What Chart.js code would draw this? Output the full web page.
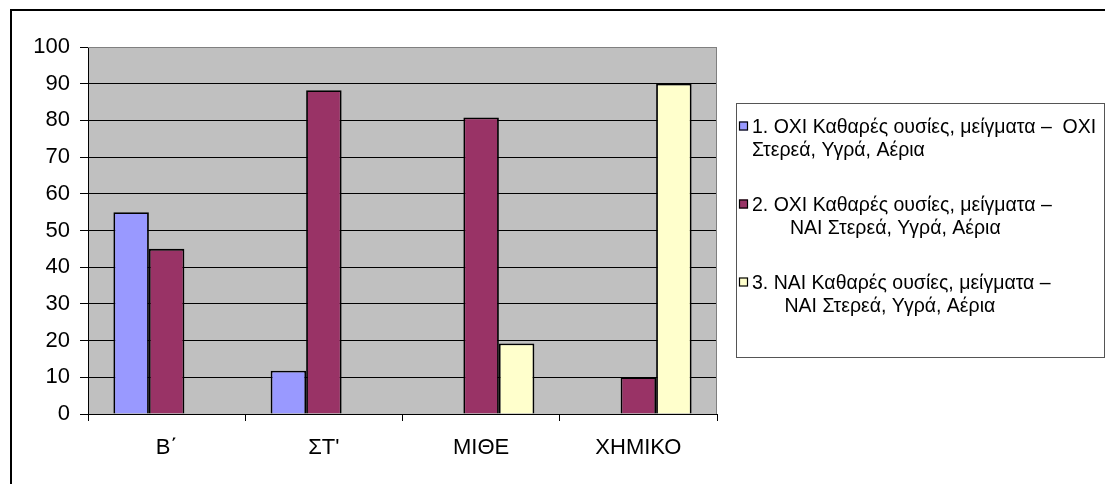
<!DOCTYPE html>
<html>
<head>
<meta charset="utf-8">
<script src="https://cdn.jsdelivr.net/npm/chart.js@4/dist/chart.umd.min.js"></script>
<style>
  html, body { margin: 0; padding: 0; background: #ffffff; }
  #wrap { position: relative; width: 1105px; height: 484px; }
</style>
</head>
<body>
<div id="wrap"><canvas id="chart" width="1105" height="484"></canvas></div>
<script>
// Categories (school classes / groups)
const categories = ['Β΄', 'ΣΤ\'', 'ΜΙΘΕ', 'ΧΗΜΙΚΟ'];

// Percentage of answers per category
const seriesNoNo   = [55, 11.8, null, null];
const seriesNoYes  = [45, 88.2, 80.8, 10];
const seriesYesYes = [null, null, 19.2, 90];

// Legend text, as wrapped lines
const legendNoNo   = ['1. ΟΧΙ Καθαρές ουσίες, μείγματα –  ΟΧΙ', 'Στερεά, Υγρά, Αέρια'];
const legendNoYes  = ['2. ΟΧΙ Καθαρές ουσίες, μείγματα –', '       ΝΑΙ Στερεά, Υγρά, Αέρια'];
const legendYesYes = ['3. ΝΑΙ Καθαρές ουσίες, μείγματα –', '      ΝΑΙ Στερεά, Υγρά, Αέρια'];

// Value axis ticks
const yTicks = [0, 10, 20, 30, 40, 50, 60, 70, 80, 90, 100];

const FONT = '"Liberation Sans", Arial, sans-serif';

// Grey plot background plus a thin grey frame on the top and right sides
const plotFrame = {
  id: 'plotFrame',
  beforeDraw(chart) {
    const { ctx, chartArea: a } = chart;
    ctx.save();
    ctx.fillStyle = '#c0c0c0';
    ctx.fillRect(a.left, a.top, a.right - a.left, a.bottom - a.top);
    ctx.restore();
  },
  afterDatasetsDraw(chart) {
    const { ctx, chartArea: a } = chart;
    ctx.save();
    ctx.strokeStyle = '#808080';
    ctx.lineWidth = 1;
    ctx.beginPath();
    ctx.moveTo(a.left, a.top + 0.5);
    ctx.lineTo(a.right - 0.5, a.top + 0.5);
    ctx.lineTo(a.right - 0.5, a.bottom);
    ctx.stroke();
    ctx.restore();
  }
};

// Outer chart border (runs off the right and bottom of the canvas)
const outerBorder = {
  id: 'outerBorder',
  afterDraw(chart) {
    const { ctx, width, height } = chart;
    ctx.save();
    ctx.strokeStyle = '#000000';
    ctx.lineWidth = 2;
    ctx.beginPath();
    ctx.moveTo(11, height + 2);
    ctx.lineTo(11, 10);
    ctx.lineTo(width + 2, 10);
    ctx.stroke();
    ctx.restore();
  }
};

// Boxed legend on the right, with multi-line entries
const boxLegend = {
  id: 'boxLegend',
  afterDraw(chart, args, opts) {
    const { ctx } = chart;
    const b = opts.box;
    ctx.save();
    ctx.fillStyle = '#ffffff';
    ctx.fillRect(b.x, b.y, b.w, b.h);
    ctx.strokeStyle = '#555555';
    ctx.lineWidth = 1;
    ctx.strokeRect(b.x + 0.5, b.y + 0.5, b.w - 1, b.h - 1);

    ctx.font = opts.fontSize + 'px ' + FONT;
    ctx.textBaseline = 'alphabetic';
    ctx.textAlign = 'left';
    chart.data.datasets.forEach((ds, i) => {
      const base = opts.firstBaseline + i * opts.itemStep;
      const m = opts.marker;
      const sy = base - opts.markerRaise - m / 2;
      ctx.fillStyle = ds.backgroundColor;
      ctx.fillRect(opts.markerX, sy, m, m);
      ctx.strokeStyle = '#000000';
      ctx.lineWidth = 1.2;
      ctx.strokeRect(opts.markerX + 0.5, sy + 0.5, m - 1, m - 1);
      ctx.fillStyle = '#000000';
      ds.legendLines.forEach((line, j) => {
        ctx.fillText(line, opts.textX, base + j * opts.lineStep);
      });
    });
    ctx.restore();
  }
};

const barStyle = { borderColor: '#000000', borderWidth: 1.8 };

new Chart(document.getElementById('chart'), {
  type: 'bar',
  data: {
    labels: categories,
    datasets: [
      { label: legendNoNo.join(' '),   legendLines: legendNoNo,   data: seriesNoNo,   backgroundColor: '#9999ff', ...barStyle },
      { label: legendNoYes.join(' '),  legendLines: legendNoYes,  data: seriesNoYes,  backgroundColor: '#993366', ...barStyle },
      { label: legendYesYes.join(' '), legendLines: legendYesYes, data: seriesYesYes, backgroundColor: '#ffffcc', ...barStyle }
    ]
  },
  options: {
    responsive: false,
    animation: false,
    layout: { padding: { left: 0, top: 47, right: 388, bottom: 0 } },
    datasets: { bar: { categoryPercentage: 0.677, barPercentage: 1.0 } },
    plugins: {
      legend: { display: false },
      tooltip: { enabled: false },
      boxLegend: {
        box: { x: 736, y: 103, w: 369, h: 255 },
        fontSize: 19.5,
        markerX: 739,
        marker: 9,
        markerRaise: 7,
        textX: 752,
        firstBaseline: 133,
        itemStep: 78,
        lineStep: 23
      }
    },
    scales: {
      x: {
        offset: true,
        afterFit(scale) { scale.height = 70; },
        grid: {
          offset: true,
          drawOnChartArea: false,
          drawTicks: true,
          tickLength: 7,
          tickColor: '#000000'
        },
        border: { display: true, color: '#000000', width: 1 },
        ticks: {
          color: '#000000',
          font: { family: FONT, size: 22 },
          padding: 14,
          maxRotation: 0
        }
      },
      y: {
        min: 0,
        max: 100,
        afterFit(scale) { scale.width = 88; },
        afterBuildTicks(scale) { scale.ticks = yTicks.map(v => ({ value: v })); },
        grid: {
          color: ctx => (ctx.tick && ctx.tick.value === 100 ? '#808080' : '#000000'),
          tickColor: '#000000',
          lineWidth: 1,
          tickLength: 8
        },
        border: { display: true, color: '#000000', width: 1 },
        ticks: {
          color: '#000000',
          font: { family: FONT, size: 22 },
          padding: 10
        }
      }
    }
  },
  plugins: [plotFrame, outerBorder, boxLegend]
});
</script>
</body>
</html>
